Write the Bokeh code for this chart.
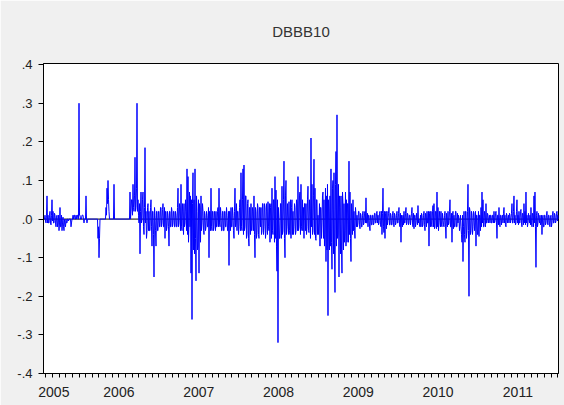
import numpy as np
from bokeh.plotting import figure
from bokeh.models import FixedTicker, LinearAxis, Span, Range1d
from bokeh.embed import file_html
from bokeh.resources import INLINE

chart_title = "DBBB10"
year_labels = ["2005", "2006", "2007", "2008", "2009", "2010", "2011"]
year_label_pos = [2005.685, 2006.5, 2007.5, 2008.5, 2009.5, 2010.5, 2011.5]
year_bounds = [2006, 2007, 2008, 2009, 2010, 2011, 2012]
y_ticks = [-0.4, -0.3, -0.2, -0.1, 0.0, 0.1, 0.2, 0.3, 0.4]
y_tick_labels = ["-.4", "-.3", "-.2", "-.1", ".0", ".1", ".2", ".3", ".4"]
first_obs = 2005.5614
last_obs = 2012.0025

obs_a = [
    0.0, 0.01, -0.01, 0.06, 0.01, -0.01, 0.02, -0.015, 0.05, 0.02,
    -0.01, 0.01, -0.02, 0.01, -0.01, -0.03, 0.03, -0.02, -0.03, 0.005,
    -0.03, -0.01, 0.0, -0.01, 0.0, 0.0, 0.0, -0.02, 0.0, 0.01,
    0.01, 0.0, 0.01, 0.01, 0.0, 0.30, 0.01, 0.0, 0.01, 0.01,
    -0.01, 0.0, 0.06, -0.01, 0.0, 0.0, 0.0, 0.0, 0.0, 0.0,
    0.0, 0.0, 0.0, 0.0, -0.05, -0.10, 0.0, 0.0, 0.0, 0.0,
    0.0, 0.0, 0.03, 0.08, 0.10, 0.02, 0.0, 0.0, 0.0, 0.0,
    0.09, 0.0, 0.0, 0.0, 0.0, 0.0, 0.0, 0.0, 0.0, 0.0,
    0.0, 0.0, 0.0, 0.0, 0.0, 0.0, 0.07, 0.02, 0.05, 0.09,
    0.02, 0.16, 0.03, 0.30, 0.05, -0.01, -0.09, 0.07, 0.0, 0.07,
    -0.04, 0.185, 0.02, -0.03, 0.04,
    0.02, -0.03, 0.05, -0.07, 0.02, -0.15, 0.01, -0.07, 0.02, -0.03,
    0.02, -0.02, 0.03, -0.01, 0.04, -0.02, -0.05, 0.02, -0.02, 0.01,
    -0.07, 0.02, -0.02, 0.02, -0.01, 0.02, -0.02, 0.01, -0.02, 0.08,
    -0.01, 0.03, 0.09, -0.03, 0.02, 0.04, -0.01, 0.02, 0.13, 0.11,
    -0.01, -0.02, -0.14, -0.26, 0.12, 0.05, 0.13, -0.16, 0.02, -0.07,
    -0.14, 0.03, 0.06, -0.01, 0.02, -0.04, 0.01, -0.02, 0.01, -0.02,
    -0.10, 0.02, 0.08, -0.03, 0.02, -0.02, 0.01, 0.02, -0.02, 0.03,
    0.08, -0.02, 0.01, -0.03, 0.02, -0.03, 0.02, -0.02, 0.01, -0.03,
    -0.12, 0.02, 0.03, -0.02, 0.01, -0.05, 0.08, -0.01, -0.03, 0.02,
    -0.02, 0.05, 0.12, -0.03, 0.13, 0.14, -0.02, 0.06, -0.04, 0.05,
    -0.07, 0.03, 0.04, -0.03, 0.02,
    0.06, -0.10, 0.02, -0.035, 0.03, -0.05, 0.03, 0.03, -0.03, 0.04,
    -0.02, 0.03, -0.03, 0.02, 0.045, -0.03, -0.06, 0.04, 0.08, -0.04,
    0.05, 0.11, 0.075, -0.135, -0.32, 0.0, -0.05, 0.04, 0.085, -0.03,
    0.15, -0.10, 0.10, -0.02, 0.0, 0.045, -0.04, -0.05, 0.05, 0.02,
    -0.02, 0.03, -0.03, 0.04, 0.11, -0.02, 0.07, 0.09, -0.03, -0.03,
    -0.05, 0.04, 0.04, -0.02, 0.085, -0.035, 0.02, 0.21, 0.09, -0.03,
    0.155, 0.08, -0.055, 0.05, 0.01, -0.01, -0.07, 0.03, -0.01, 0.07,
    0.05, -0.04, -0.11, -0.08, -0.25, 0.02, 0.06, 0.13, -0.13, 0.10,
    0.12, -0.19, 0.175, 0.27, -0.04, -0.15, 0.03, 0.06, -0.14, 0.04,
    0.04, -0.03, -0.07, -0.06, 0.04, 0.15, 0.07, -0.11, 0.02, 0.05,
    0.02, -0.05, 0.01, 0.01, -0.01,
    0.02, -0.025, 0.01, -0.02, 0.02, -0.01, 0.02, 0.055, -0.01, -0.02,
    0.01, -0.03, 0.01, -0.015, 0.01, -0.01, 0.015, -0.01, 0.02, 0.01,
    -0.01, 0.02, -0.02, -0.04, 0.08, -0.035, -0.05, 0.02, 0.02, 0.0,
    0.03, -0.015, 0.01, -0.015, 0.02, -0.02, 0.01, -0.01, 0.02, -0.01,
    0.03, -0.02, -0.06, 0.0, 0.01, 0.02, -0.01, 0.03, -0.01, 0.01,
    -0.01, 0.01, 0.0, 0.03, -0.02, -0.025, 0.01, -0.01, 0.0, 0.035,
    0.0, -0.02, -0.02, 0.01, -0.015, 0.02, -0.03, 0.01, 0.02, -0.01,
    -0.07, 0.02, 0.02, -0.02, 0.035, 0.04, -0.02, 0.02, 0.07, 0.03,
    -0.01, 0.0, 0.02, -0.02, 0.0, -0.02, 0.02, -0.05, 0.0, 0.02,
    -0.01, 0.05, -0.02, -0.06, 0.02, 0.01, -0.02, 0.02, -0.02, -0.01,
    0.0, -0.01, -0.02, -0.06, -0.11,
    0.02, -0.06, 0.02, -0.03, 0.09, -0.20, 0.02, -0.03, 0.01, -0.02,
    0.015, -0.01, -0.07, 0.01, -0.04, -0.045, 0.01, 0.03, 0.07, 0.05,
    -0.02, 0.01, 0.04, -0.01, 0.01, 0.0, -0.01, 0.01, -0.01, 0.01,
    0.02, -0.005, 0.02, -0.05, 0.01, 0.03, -0.02, 0.01, 0.0, -0.01,
    0.03, 0.01, -0.02, 0.01, 0.0, -0.01, 0.01, 0.0, 0.04, -0.01,
    0.06, 0.01, -0.01, 0.05, 0.01, 0.02, -0.01, 0.025, -0.02, 0.01,
    0.04, 0.02, 0.07, 0.01, -0.01, 0.0, 0.01, 0.03, -0.02, 0.01,
    0.06, 0.07, -0.125, 0.02, -0.01, 0.0, 0.01, -0.01, -0.04, 0.01,
    -0.02, 0.01, -0.01, 0.02, -0.015, 0.01, -0.02, 0.01, -0.01, 0.02,
    -0.01, 0.01, -0.005, 0.02, 0.01,
]

obs_b = [
    0.0, -0.005, 0.01, -0.01, -0.01, 0.01, -0.01, 0.01, -0.005, -0.01,
    0.015, -0.01, 0.005, -0.02, 0.01, -0.01, -0.02, 0.01, -0.01, -0.02,
    0.0, -0.02, -0.01, 0.0, -0.005, 0.0, 0.0, -0.01, 0.0, 0.0,
    0.01, 0.0, 0.0, 0.01, 0.0, 0.01, 0.0, 0.0, 0.01, 0.0,
    0.0, 0.0, 0.0, 0.0, 0.0, 0.0, 0.0, 0.0, 0.0, 0.0,
    0.0, 0.0, 0.0, 0.0, -0.02, -0.05, 0.0, 0.0, 0.0, 0.0,
    0.0, 0.0, 0.01, 0.04, 0.05, 0.0, 0.0, 0.0, 0.0, 0.0,
    0.0, 0.0, 0.0, 0.0, 0.0, 0.0, 0.0, 0.0, 0.0, 0.0,
    0.0, 0.0, 0.0, 0.0, 0.0, 0.0, 0.0, 0.05, 0.01, 0.03,
    0.06, 0.02, 0.08, 0.02, 0.01, 0.04, 0.02, -0.01, 0.05, -0.02,
    0.03, -0.01, -0.05, 0.03, -0.03,
    -0.03, 0.03, -0.02, 0.02, -0.04, 0.03, -0.03, 0.02, -0.03, 0.02,
    -0.02, 0.03, -0.02, 0.025, -0.02, 0.03, 0.02, -0.03, 0.02, -0.02,
    0.02, -0.02, 0.03, -0.02, 0.02, -0.02, 0.02, -0.02, 0.03, -0.02,
    0.04, -0.03, -0.02, 0.04, -0.04, -0.02, 0.05, -0.03, -0.04, -0.06,
    0.07, 0.06, 0.05, 0.04, -0.08, -0.09, -0.05, 0.06, -0.08, 0.05,
    0.04, -0.06, -0.03, 0.04, -0.03, 0.02, -0.03, 0.02, -0.02, 0.03,
    0.02, -0.03, -0.02, 0.02, -0.03, 0.02, -0.03, -0.02, 0.02, -0.02,
    -0.01, 0.03, -0.03, 0.02, -0.03, 0.02, -0.02, 0.03, -0.03, 0.02,
    0.02, -0.03, -0.02, 0.03, -0.03, 0.02, -0.02, 0.04, 0.02, -0.04,
    0.03, -0.03, -0.02, 0.05, -0.04, -0.03, 0.06, -0.05, 0.04, -0.05,
    0.03, -0.04, -0.03, 0.03, -0.03,
    -0.04, 0.03, -0.05, 0.04, -0.04, 0.03, -0.02, -0.04, 0.04, -0.04,
    0.04, -0.05, 0.04, -0.04, -0.02, 0.04, 0.03, -0.05, -0.03, 0.05,
    -0.06, -0.05, -0.07, 0.05, 0.03, -0.05, 0.04, -0.05, -0.04, 0.05,
    -0.05, 0.06, -0.04, 0.04, -0.04, -0.03, 0.05, 0.03, -0.04, -0.04,
    0.04, -0.04, 0.05, -0.03, -0.03, 0.06, -0.04, -0.02, 0.05, 0.03,
    0.04, -0.03, -0.04, 0.05, -0.03, 0.05, -0.05, -0.02, -0.04, 0.06,
    -0.04, -0.05, 0.05, -0.04, -0.04, 0.04, 0.03, -0.05, 0.06, -0.05,
    -0.07, 0.08, 0.06, 0.09, 0.05, -0.08, -0.07, -0.06, 0.08, -0.09,
    -0.08, 0.09, -0.07, -0.05, 0.09, 0.06, -0.09, -0.08, 0.07, -0.08,
    -0.06, 0.07, 0.05, 0.04, -0.06, -0.04, -0.05, 0.04, -0.04, -0.03,
    -0.03, 0.03, -0.02, -0.02, 0.02,
    -0.015, 0.015, -0.02, 0.01, -0.015, 0.015, -0.01, -0.01, 0.015, 0.01,
    -0.02, 0.01, -0.015, 0.01, -0.015, 0.015, -0.01, 0.015, -0.01, -0.015,
    0.015, -0.015, 0.02, 0.015, -0.02, 0.02, 0.015, -0.025, -0.015, 0.015,
    -0.015, 0.015, -0.015, 0.01, -0.01, 0.015, -0.015, 0.01, -0.01, 0.015,
    -0.015, 0.015, 0.01, -0.02, -0.015, -0.01, 0.015, -0.015, 0.015, -0.015,
    0.01, -0.015, 0.015, -0.01, 0.015, 0.01, -0.02, 0.015, -0.015, -0.01,
    -0.015, 0.01, 0.015, -0.02, 0.01, -0.015, 0.015, -0.02, -0.01, 0.02,
    0.015, -0.02, -0.015, 0.02, -0.02, -0.025, 0.02, -0.025, -0.02, -0.03,
    0.02, -0.02, -0.015, 0.015, -0.015, 0.01, -0.02, 0.015, -0.02, -0.015,
    0.02, -0.02, 0.015, 0.01, -0.025, -0.02, 0.02, -0.02, 0.015, 0.01,
    -0.03, 0.01, -0.04, 0.01, -0.02,
    -0.04, 0.02, -0.05, 0.02, -0.03, 0.03, -0.04, 0.02, -0.04, 0.02,
    -0.03, 0.02, 0.01, -0.04, 0.02, 0.01, -0.03, -0.02, -0.01, -0.02,
    0.02, -0.02, -0.01, 0.015, -0.01, 0.01, 0.01, -0.01, 0.01, -0.01,
    -0.01, 0.015, -0.01, 0.01, -0.015, -0.01, 0.01, -0.015, 0.01, 0.015,
    -0.01, -0.015, 0.015, -0.01, 0.01, 0.015, -0.01, 0.015, -0.01, 0.02,
    -0.01, -0.015, 0.02, -0.01, -0.015, -0.01, 0.02, -0.01, 0.015, -0.015,
    -0.01, -0.015, -0.01, -0.02, 0.015, -0.01, -0.015, -0.01, 0.015, -0.02,
    -0.01, -0.02, 0.01, -0.02, 0.015, -0.01, -0.015, 0.01, 0.0, -0.02,
    0.01, -0.015, 0.01, -0.01, 0.01, -0.015, 0.005, -0.02, 0.01, -0.01,
    0.015, -0.01, 0.015, -0.005, 0.0,
]

n = min(len(obs_a), len(obs_b))
series = np.empty(2 * n)
series[0::2] = obs_a[:n]
series[1::2] = obs_b[:n]
step = (last_obs - first_obs) / (n - 1)
x = first_obs + np.arange(2 * n) * (step / 2)

FONT = "Liberation Sans"
TEXT = "#222222"

p = figure(width=564, height=405, output_backend="svg", toolbar_location=None,
           x_range=Range1d(2005.555, 2012.009), y_range=Range1d(-0.4, 0.403),
           min_border_left=43, min_border_right=6, min_border_top=63,
           min_border_bottom=32,
           background_fill_color="white", border_fill_color="#f0f0f0")

p.title.text = chart_title
p.title.align = "center"
p.title.vertical_align = "top"
p.title.text_font = FONT
p.title.text_font_size = "15px"
p.title.text_font_style = "normal"
p.title.text_color = "#333333"
p.title.standoff = 44

p.xgrid.visible = False
p.ygrid.visible = False
p.outline_line_color = "black"
p.outline_line_width = 1

months = [m / 12 for m in range(2005 * 12 + 7, 2012 * 12 + 1)]
xa = p.xaxis[0]
xa.ticker = FixedTicker(ticks=year_label_pos, minor_ticks=months)
xa.major_label_overrides = {pos: lab for pos, lab in zip(year_label_pos, year_labels)}
xa.major_tick_out = 0
xa.major_tick_in = 0
xa.major_tick_line_color = None
xa.minor_tick_out = 4
xa.minor_tick_in = 0
xa.minor_tick_line_color = "black"
xa.axis_line_color = "black"
xa.major_label_standoff = 9
xa.major_label_text_font = FONT
xa.major_label_text_font_size = "14px"
xa.major_label_text_color = TEXT

# longer year-boundary ticks drawn on the same bottom edge
yb = LinearAxis(ticker=FixedTicker(ticks=[], minor_ticks=year_bounds),
                fixed_location=-0.4)
yb.axis_line_color = None
yb.major_tick_line_color = None
yb.minor_tick_out = 7
yb.minor_tick_in = 0
yb.minor_tick_line_color = "black"
p.add_layout(yb, "below")

ya = p.yaxis[0]
ya.ticker = FixedTicker(ticks=y_ticks, minor_ticks=[])
ya.major_label_overrides = {t: s for t, s in zip(y_ticks, y_tick_labels)}
ya.major_tick_out = 5
ya.major_tick_in = 0
ya.major_tick_line_color = "black"
ya.axis_line_color = "black"
ya.major_label_standoff = 6
ya.major_label_text_font = FONT
ya.major_label_text_font_size = "13px"
ya.major_label_text_color = TEXT

zero = Span(location=0, dimension="width", line_color="black", line_width=1,
            level="underlay")
p.add_layout(zero)

p.line(x, series, line_color="#0000ff", line_width=1)

open("out.html", "w").write(file_html(p, INLINE))
